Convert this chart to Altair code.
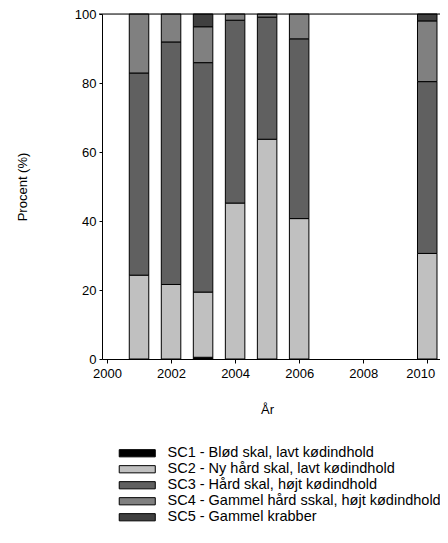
import altair as alt
import pandas as pd

years = [2001, 2002, 2003, 2004, 2005, 2006, 2010]
classes = [
    "SC1 - Blød skal, lavt  kødindhold",
    "SC2 - Ny hård skal, lavt kødindhold",
    "SC3 - Hård skal, højt kødindhold",
    "SC4 - Gammel hård sskal, højt kødindhold",
    "SC5 - Gammel krabber",
]
sc1 = [0.0, 0.0, 0.5, 0.0, 0.0, 0.0, 0.0]
sc2 = [24.3, 21.6, 18.9, 45.2, 63.7, 40.7, 30.6]
sc3 = [58.6, 70.3, 66.5, 53.0, 35.4, 52.1, 49.8]
sc4 = [17.1, 8.1, 10.4, 1.8, 0.9, 7.2, 17.6]
sc5 = [0.0, 0.0, 3.7, 0.0, 0.0, 0.0, 2.0]
colors = ["#000000", "#c0c0c0", "#606060", "#808080", "#404040"]
x_ticks = [2000, 2002, 2004, 2006, 2008, 2010]
y_ticks = [0, 20, 40, 60, 80, 100]

rows = []
for i, series in enumerate([sc1, sc2, sc3, sc4, sc5]):
    for yr, v in zip(years, series):
        if v > 0:
            rows.append({"year": yr, "klasse": classes[i], "idx": i, "value": v})
df = pd.DataFrame(rows)

FONT = "Liberation Sans"
W, H = 338, 345
XMAX = 2000 + W / 33.0

bars = alt.Chart(df).mark_bar(width=19.5, stroke="#000000", strokeWidth=1).encode(
    x=alt.X("year:Q",
            scale=alt.Scale(domain=[2000, XMAX], nice=False, zero=False),
            axis=alt.Axis(values=x_ticks, format="d", title="År", grid=False,
                          domainColor="#000", tickColor="#000", tickSize=4,
                          labelPadding=4, labelFontSize=13, labelFont=FONT,
                          labelColor="#000", titleFont=FONT, titleFontSize=13,
                          titleFontWeight="normal", titleColor="#000",
                          titleBaseline="middle", titleY=50, titleX=165,
                          labelOffset={"condition": {"test": "datum.value == 2010", "value": -7},
                                       "value": 0})),
    y=alt.Y("value:Q", stack="zero",
            scale=alt.Scale(domain=[0, 100], nice=False),
            axis=alt.Axis(values=y_ticks, title="Procent (%)", grid=False,
                          domainColor="#000", tickColor="#000", tickSize=3,
                          labelPadding=3, labelFontSize=13, labelFont=FONT,
                          labelColor="#000", titleFont=FONT, titleFontSize=13,
                          titleFontWeight="normal", titleColor="#000",
                          titleBaseline="middle", titleX=-80, titleY=H / 2)),
    color=alt.Color("klasse:N",
                    scale=alt.Scale(domain=classes, range=colors),
                    legend=alt.Legend(
                        title=None, orient="none", legendX=28, legendY=432,
                        symbolType="M-5,-1H5V1H-5Z", symbolSize=52,
                        symbolStrokeColor="#000", symbolStrokeWidth=1,
                        symbolOpacity=1,
                        labelOffset=23, labelFont=FONT, labelFontSize=14.5,
                        labelColor="#000", rowPadding=1, padding=0,
                        labelLimit=400)),
    order=alt.Order("idx:Q", sort="ascending"),
)

top_line = alt.Chart(pd.DataFrame({"y": [100]})).mark_rule(
    color="#000", strokeWidth=1).encode(
    y=alt.Y("y:Q"), x=alt.value(-3), x2=alt.value(W))

chart = alt.layer(bars, top_line).properties(
    width=W, height=H,
    autosize=alt.AutoSizeParams(type="none"),
    padding={"left": 94, "top": 6, "right": 0, "bottom": 174},
).configure_view(stroke=None).configure(background="white")

chart.save("out.html", embed_options={"renderer": "svg", "actions": False})
